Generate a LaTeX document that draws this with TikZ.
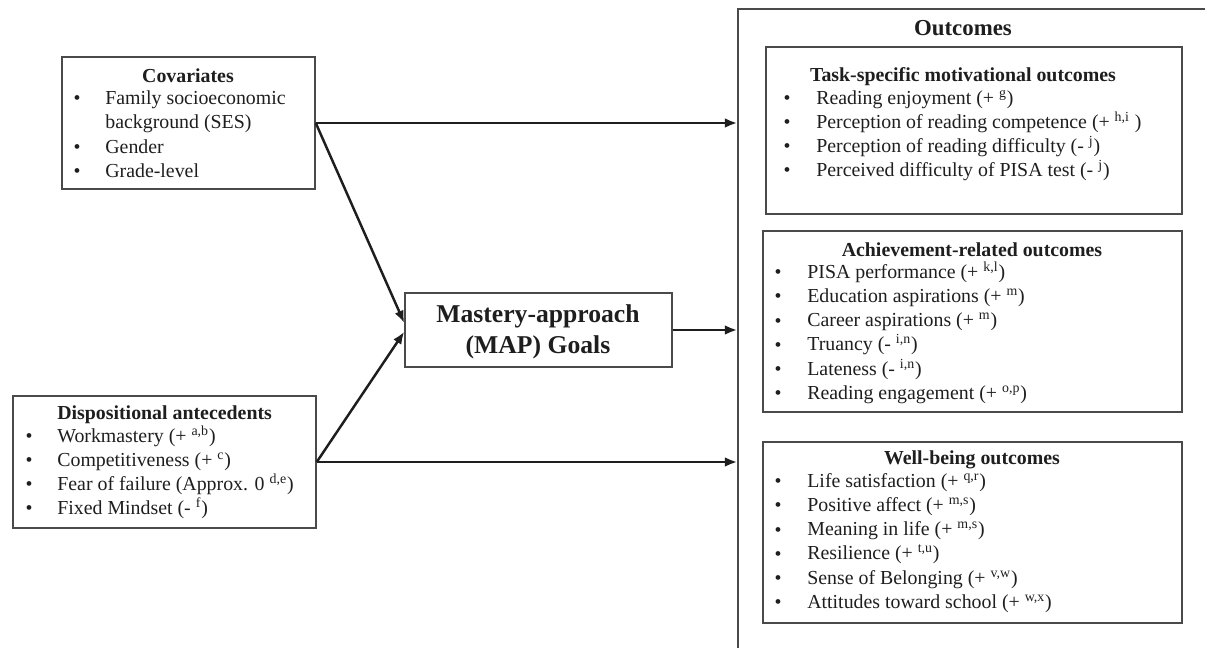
\documentclass[tikz,border=0pt]{standalone}
\usepackage{fontspec}
\setmainfont{Liberation Serif}
\usetikzlibrary{arrows.meta,fit}

\definecolor{inkgray}{HTML}{1E1E1E}
\definecolor{framegray}{HTML}{4A4A4A}

\tikzset{
  box/.style={draw=framegray, line width=0.85pt, inner sep=0pt},
  heading/.style={font=\fontsize{11.3}{13.6}\selectfont\bfseries, text=inkgray, inner sep=0pt},
  item/.style={font=\fontsize{11.3}{13.6}\selectfont, text=inkgray, anchor=mid west, inner sep=0pt},
  dot/.style={font=\fontsize{11.3}{13.6}\selectfont, text=inkgray, inner sep=0pt},
  link/.style={line width=1.4pt, draw=inkgray, -{Latex[length=7pt,width=5.5pt]}}
}

\begin{document}
\begin{tikzpicture}[x=0.02cm,y=-0.02cm]
\useasboundingbox (0,0) rectangle (1205,648);
\clip (0,0) rectangle (1205,648);

% BOXES
% covariates
\node[box, fit={(62,57) (315,189)}] (cov) {};
\node[heading] (covt) at (188,76) {Covariates};
\node[dot] (covb1) at (77,100) {\textbullet};
\node[item] (covi1) at (105,100) {Family socioeconomic};
\node[item] (covi1b) at (105,124) {background (SES)};
\node[dot] (covb2) at (77,149) {\textbullet};
\node[item] (covi2) at (105,149) {Gender};
\node[dot] (covb3) at (77,173) {\textbullet};
\node[item] (covi3) at (105,173) {Grade-level};

% dispositional antecedents
\node[box, fit={(13,396) (316,528)}] (disp) {};
\node[heading, anchor=mid west] (dispt) at (57,415) {Dispositional antecedents};
\foreach \txt [count=\i] in {{Workmastery (+ \textsuperscript{a,b})},
    {Competitiveness (+ \textsuperscript{c})},
    {Fear of failure (Approx. 0 \textsuperscript{d,e})},
    {Fixed Mindset (- \textsuperscript{f})}}{
  \node[dot] (dispb\i) at (29,{414+24*\i}) {\textbullet};
  \node[item] (dispi\i) at (57,{414+24*\i}) {\txt};
}

% MAP goals
\node[box, fit={(405,293) (672,367)}] (map) {};
\node[align=center, text=inkgray, inner sep=0pt,
  font=\fontsize{14.6}{17.6}\selectfont\bfseries] (mapt) at (538,332) {Mastery-approach\\(MAP) Goals};

% outcomes frame
\node[box, fit={(738,9) (1225,670)}] (out) {};
\node[heading, font=\fontsize{13}{15}\selectfont\bfseries] (outt) at (963,28) {Outcomes};

% task-specific motivational outcomes
\node[box, fit={(766,47) (1182,214)}] (task) {};
\node[heading] (taskt) at (963,77) {Task-specific motivational outcomes};
\foreach \txt [count=\i] in {{Reading enjoyment (+ \textsuperscript{g})},
    {Perception of reading competence (+ \textsuperscript{h,i} )},
    {Perception of reading difficulty (- \textsuperscript{j})},
    {Perceived difficulty of PISA test (- \textsuperscript{j})}}{
  \node[dot] (taskb\i) at (787,{76+24*\i}) {\textbullet};
  \node[item] (taski\i) at (816,{76+24*\i}) {\txt};
}

% achievement-related outcomes
\node[box, fit={(763,231) (1182,412)}] (ach) {};
\node[heading] (acht) at (972,250) {Achievement-related outcomes};
\foreach \txt [count=\i] in {{PISA performance (+ \textsuperscript{k,l})},
    {Education aspirations (+ \textsuperscript{m})},
    {Career aspirations (+ \textsuperscript{m})},
    {Truancy (- \textsuperscript{i,n})},
    {Lateness (- \textsuperscript{i,n})},
    {Reading engagement (+ \textsuperscript{o,p})}}{
  \node[dot] (achb\i) at (778,{250+24.2*\i}) {\textbullet};
  \node[item] (achi\i) at (807,{250+24.2*\i}) {\txt};
}

% well-being outcomes
\node[box, fit={(763,442) (1182,623)}] (well) {};
\node[heading] (wellt) at (972,460) {Well-being outcomes};
\foreach \txt [count=\i] in {{Life satisfaction (+ \textsuperscript{q,r})},
    {Positive affect (+ \textsuperscript{m,s})},
    {Meaning in life (+ \textsuperscript{m,s})},
    {Resilience (+ \textsuperscript{t,u})},
    {Sense of Belonging (+ \textsuperscript{v,w})},
    {Attitudes toward school (+ \textsuperscript{w,x})}}{
  \node[dot] (wellb\i) at (778,{459+24.2*\i}) {\textbullet};
  \node[item] (welli\i) at (807,{459+24.2*\i}) {\txt};
}

% PATHS
\draw[link] (cov.east) -- (cov.east -| out.west);
\draw[link] (cov.east) -- ([yshift=4pt]map.west);
\draw[link] (disp.east) -- ([yshift=-1pt]map.west);
\draw[link] (disp.east) -- (disp.east -| out.west);
\draw[link] (map.east) -- (map.east -| out.west);

\end{tikzpicture}
\end{document}
